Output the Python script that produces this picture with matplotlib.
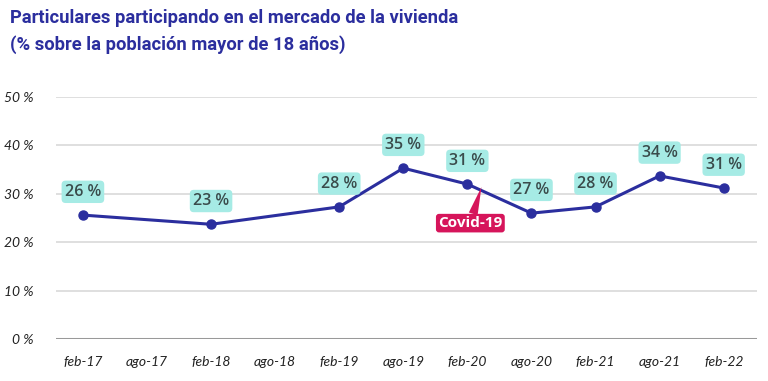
import matplotlib
matplotlib.use("Agg")
from matplotlib import pyplot as plt

plt.rcParams['font.family'] = ['Lato', 'DejaVu Sans']

# datos
periodos = ['feb-17', 'ago-17', 'feb-18', 'ago-18', 'feb-19', 'ago-19',
            'feb-20', 'ago-20', 'feb-21', 'ago-21', 'feb-22']
pos_puntos = [0, 2, 4, 5, 6, 7, 8, 9, 10]
valores = [25.6, 23.7, 27.3, 35.3, 32.0, 26.0, 27.3, 33.7, 31.2]
etiquetas = ['26 %', '23 %', '28 %', '35 %', '31 %', '27 %', '28 %', '34 %', '31 %']
yticks = [0, 10, 20, 30, 40, 50]

azul = '#2b2e9e'
turquesa = '#a6ebe5'
rojo = '#d6155b'

fig = plt.figure(figsize=(7.68, 3.81), dpi=100)
ax = fig.add_axes([56/768, 1 - 339/381, (757-56)/768, (339-97)/381])

ax.plot(pos_puntos, valores, color=azul, lw=2.2, marker='o', ms=6.5, zorder=3)

for x, y, t in zip(pos_puntos, valores, etiquetas):
    ax.annotate(t, (x, y), xytext=(0, 11), textcoords='offset points',
                ha='center', va='bottom', fontsize=11.5, fontweight='semibold',
                family=['Open Sans', 'DejaVu Sans'],
                color='#3a4b4b', zorder=4,
                bbox=dict(boxstyle='round,pad=0.2,rounding_size=0.25',
                          fc=turquesa, ec='none'))

# etiqueta covid (entre feb-20 y ago-20)
ax.annotate('Covid-19', (6.22, 31.4), xytext=(-8, -26), textcoords='offset points',
            ha='center', va='center', fontsize=11, fontweight='bold', color='white',
            family=['Open Sans', 'DejaVu Sans'], zorder=5,
            bbox=dict(boxstyle='round,pad=0.15,rounding_size=0.2', fc=rojo, ec='none'),
            arrowprops=dict(arrowstyle='wedge,tail_width=0.6', fc=rojo, ec='none',
                            shrinkA=0, shrinkB=0))

ax.set_xlim(-0.42, 10.52)
ax.set_ylim(0, 50)
ax.set_xticks(range(len(periodos)))
ax.set_xticklabels(periodos, style='italic', fontsize=10, color='#222222')
ax.set_yticks(yticks)
ax.set_yticklabels([f'{v} %' for v in yticks], style='italic', fontsize=10,
                   color='#222222')
ax.tick_params(length=0, pad=12)
ax.tick_params(axis='y', pad=16)
for s in ax.spines.values():
    s.set_visible(False)
ax.grid(axis='y', color='#d9d9d9', lw=1.2)
ax.axhline(0, color='#999999', lw=2.2, zorder=2)

fig.text(10/768, 1 - 18/381, 'Particulares participando en el mercado de la vivienda',
         fontsize=13.2, fontweight='bold', color=azul, va='center', ha='left',
         family=['Roboto', 'DejaVu Sans'])
fig.text(10/768, 1 - 45/381, '(% sobre la población mayor de 18 años)',
         fontsize=13.2, fontweight='bold', color=azul, va='center', ha='left',
         family=['Roboto', 'DejaVu Sans'])

fig.savefig('out.png', dpi=100, facecolor='white')
